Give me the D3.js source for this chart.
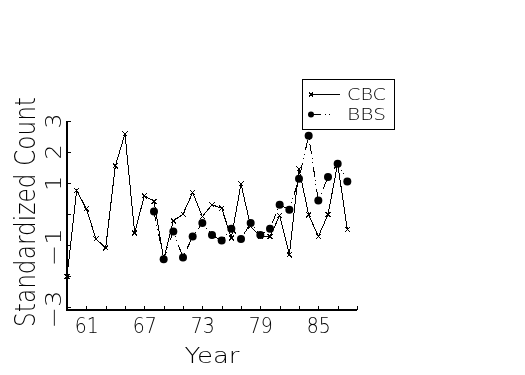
<!DOCTYPE html>
<html>
<head>
<meta charset="utf-8">
<script src="https://cdn.jsdelivr.net/npm/d3@7"></script>
<style>
  body { margin: 0; background: #fff; }
  svg { display: block; will-change: transform; }
  text { font-family: "DejaVu Sans", sans-serif; font-weight: 200; fill: #000; -webkit-font-smoothing: antialiased; }
  .crisp { shape-rendering: crispEdges; }
</style>
</head>
<body>
<svg id="chart" width="525" height="375"></svg>
<script>
(function(d3) {

  // Christmas Bird Count, 1959-1988
  var cbcYears = [59, 60, 61, 62, 63, 64, 65, 66, 67, 68, 69, 70, 71, 72, 73, 74,
                  75, 76, 77, 78, 79, 80, 81, 82, 83, 84, 85, 86, 87, 88];
  var cbcValues = [-2.02, 0.75, 0.16, -0.81, -1.10, 1.54, 2.57, -0.62, 0.58, 0.40,
                   -1.46, -0.23, -0.01, 0.68, -0.09, 0.29, 0.18, -0.78, 0.96, -0.41,
                   -0.73, -0.73, -0.06, -1.32, 1.44, -0.03, -0.73, -0.03, 1.61, -0.51];

  // Breeding Bird Survey, 1968-1988
  var bbsYears = [68, 69, 70, 71, 72, 73, 74, 75, 76, 77, 78, 79, 80, 81, 82, 83,
                  84, 85, 86, 87, 88];
  var bbsValues = [0.07, -1.46, -0.57, -1.41, -0.73, -0.30, -0.68, -0.86, -0.48, -0.81,
                   -0.30, -0.68, -0.48, 0.29, 0.13, 1.13, 2.51, 0.43, 1.18, 1.61, 1.04];

  // Axis ticks and labels
  var xTicks = [61, 63, 65, 67, 69, 71, 73, 75, 77, 79, 81, 83, 85, 87, 89];
  var xLabels = [61, 67, 73, 79, 85];
  var yTicks = [-3, -2, -1, 0, 1, 2, 3];
  var yLabels = [3, 2, 1, -1, -3];

  var svg = d3.select("#chart");

  var x = d3.scaleLinear()
    .domain([59, 89])
    .range([67, 357])
    ;

  var y = d3.scaleLinear()
    .domain([-3.08, 3])
    .range([309.5, 120.5])
    ;

  //** Axes **//

  var xAxis = d3.axisBottom(x)
    .tickValues(xTicks)
    .tickSize(-4)
    .tickPadding(8)
    .tickFormat(function(d) { return xLabels.indexOf(d) >= 0 ? d : ""; })
    ;

  var gx = svg.append("g")
    .attr("transform", "translate(0," + y.range()[0] + ")")
    .call(xAxis)
    ;
  gx.select(".domain").remove();
  gx.selectAll("line").attr("stroke", "#000").attr("class", "crisp");
  gx.selectAll("text")
    .style("font-size", "22px")
    .attr("fill", "#000")
    .attr("textLength", function(d) { return xLabels.indexOf(d) >= 0 ? 24 : null; })
    .attr("lengthAdjust", "spacingAndGlyphs")
    ;

  var yAxis = d3.axisLeft(y)
    .tickValues(yTicks)
    .tickSize(-4)
    .tickFormat(function(d) { return yLabels.indexOf(d) >= 0 ? (d < 0 ? "\u2212" + (-d) : d) : ""; })
    ;

  var gy = svg.append("g")
    .attr("transform", "translate(" + x.range()[0] + ",0)")
    .call(yAxis)
    ;
  gy.select(".domain").remove();
  gy.selectAll("line").attr("stroke", "#000").attr("class", "crisp");
  // Labels run bottom-to-top, like the axis title
  gy.selectAll("text")
    .attr("transform", "rotate(-90)")
    .attr("x", function(d) { return d < 0 ? -2 : 0; })
    .attr("y", -6)
    .attr("dy", 0)
    .attr("text-anchor", "middle")
    .style("font-size", "22px")
    .attr("fill", "#000")
    .attr("textLength", function(d) { return d < 0 ? 38 : 15; })
    .attr("lengthAdjust", "spacingAndGlyphs")
    ;

  // Axis lines
  svg.append("path")
    .attr("class", "crisp")
    .attr("d", d3.line()([[x.range()[0], y.range()[1]], [x.range()[0], y.range()[0]], [x.range()[1], y.range()[0]]]))
    .attr("fill", "none")
    .attr("stroke", "#000")
    .attr("stroke-width", 2)
    ;

  // Titles
  svg.append("text")
    .attr("transform", "translate(35," + 212 + ") rotate(-90)")
    .attr("text-anchor", "middle")
    .attr("textLength", 230)
    .attr("lengthAdjust", "spacingAndGlyphs")
    .style("font-size", "28px")
    .text("Standardized Count")
    ;

  svg.append("text")
    .attr("x", (x.range()[0] + x.range()[1]) / 2)
    .attr("y", 363)
    .attr("text-anchor", "middle")
    .attr("textLength", 55)
    .attr("lengthAdjust", "spacingAndGlyphs")
    .style("font-size", "21px")
    .text("Year")
    ;

  //** Series **//

  var line = d3.line()
    .x(function(d) { return x(d[0]); })
    .y(function(d) { return y(d[1]); })
    ;

  var cbcData = d3.zip(cbcYears, cbcValues);
  var bbsData = d3.zip(bbsYears, bbsValues);

  svg.append("path")
    .datum(bbsData)
    .attr("class", "crisp")
    .attr("d", line)
    .attr("fill", "none")
    .attr("stroke", "#000")
    .attr("stroke-dasharray", "10,4,1,3,1,4")
    ;

  svg.selectAll(".bbs")
    .data(bbsData)
    .enter().append("circle")
    .attr("class", "bbs")
    .attr("cx", function(d) { return x(d[0]); })
    .attr("cy", function(d) { return y(d[1]); })
    .attr("r", 4)
    .attr("fill", "#000")
    ;

  svg.append("path")
    .datum(cbcData)
    .attr("class", "crisp")
    .attr("d", line)
    .attr("fill", "none")
    .attr("stroke", "#000")
    ;

  function cross(cx, cy, s) {
    return "M" + (cx - s) + "," + (cy - s) + "L" + (cx + s) + "," + (cy + s) +
           "M" + (cx - s) + "," + (cy + s) + "L" + (cx + s) + "," + (cy - s);
  }

  svg.selectAll(".cbc")
    .data(cbcData)
    .enter().append("path")
    .attr("class", "cbc crisp")
    .attr("d", function(d) { return cross(x(d[0]), y(d[1]), 2.5); })
    .attr("stroke", "#000")
    ;

  //** Legend **//

  var legend = svg.append("g");

  legend.append("rect")
    .attr("class", "crisp")
    .attr("x", 302.5)
    .attr("y", 79.5)
    .attr("width", 92)
    .attr("height", 50)
    .attr("fill", "#fff")
    .attr("stroke", "#000")
    ;

  legend.append("path")
    .attr("class", "crisp")
    .attr("d", d3.line()([[311, 94.5], [340, 94.5]]))
    .attr("stroke", "#000")
    ;
  legend.append("path")
    .attr("class", "crisp")
    .attr("d", cross(311, 94.5, 2))
    .attr("stroke", "#000")
    ;
  legend.append("text")
    .attr("x", 347)
    .attr("y", 100)
    .attr("textLength", 39)
    .attr("lengthAdjust", "spacingAndGlyphs")
    .style("font-size", "15px")
    .text("CBC")
    ;

  legend.append("path")
    .attr("class", "crisp")
    .attr("d", d3.line()([[311, 114.5], [340, 114.5]]))
    .attr("stroke", "#000")
    .attr("stroke-dasharray", "10,4,1,3,1,10")
    ;
  legend.append("circle")
    .attr("cx", 311)
    .attr("cy", 114.5)
    .attr("r", 3)
    .attr("fill", "#000")
    ;
  legend.append("text")
    .attr("x", 347)
    .attr("y", 120)
    .attr("textLength", 39)
    .attr("lengthAdjust", "spacingAndGlyphs")
    .style("font-size", "15px")
    .text("BBS")
    ;

})(d3);
</script>
</body>
</html>
